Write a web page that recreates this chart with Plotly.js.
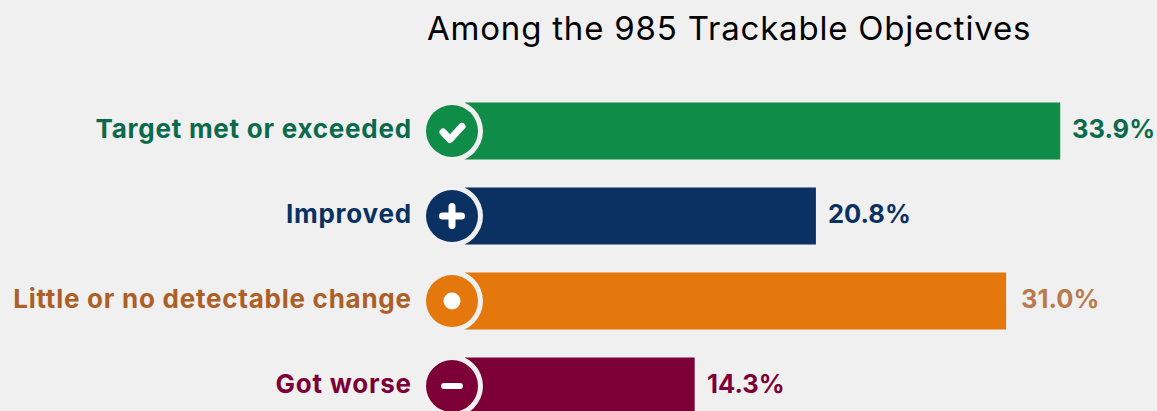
<!DOCTYPE html>
<html>
<head>
<meta charset="utf-8">
<script src="https://cdn.plot.ly/plotly-3.0.1.min.js"></script>
<style>
html,body{margin:0;padding:0;background:#f0f0f0;overflow:hidden}
.gtitle{letter-spacing:0.8px}
.ytick text{letter-spacing:0.75px}
.ytick{transform:translateY(-2px)}
.shapelayer path{stroke-linecap:round;stroke-linejoin:round}
</style>
</head>
<body>
<div id="chart" style="width:1157px;height:411px"></div>
<script>
const categories = ["Target met or exceeded","Improved","Little or no detectable change","Got worse"];
const values = [33.9,20.8,31.0,14.3];
const valueLabels = ["33.9%","20.8%","31.0%","14.3%"];
const barColors = ["#0f8c47","#0a3161","#e4780c","#7c0037"];
const textColors = ["#0b6a4c","#0a3161","#b97a4d","#7c0037"];
const labelColors = ["#0b6a4c","#0a3161","#ad5f28","#7c0037"];
// icon strokes, y up, px from badge centre
const iconPaths = [
 "M -9 -1 L -2 -8.5 L 10 4.5",
 "M -9.5 0 L 9.5 0 M 0 -9.5 L 0 9.5",
 null,
 "M -8 0 L 8 0"
];
const iconWidths = [7,7,0,6];
const labelShifts = [10,10,13,10];
const bg = "#f0f0f0";
const iconX = 1.287;   // centre of the badge, in axis units
const maskX = 1.98;

const shapes = [];
categories.forEach((c,i)=>{
  shapes.push({type:"rect",xref:"x",yref:"y",x0:-0.4,x1:maskX,y0:i-0.4,y1:i+0.4,
    fillcolor:bg,line:{width:0},layer:"above"});
  shapes.push({type:"circle",xref:"x",yref:"y",xsizemode:"pixel",ysizemode:"pixel",
    xanchor:iconX,yanchor:c,x0:-31,x1:31,y0:-31,y1:31,fillcolor:bg,line:{width:0},layer:"above"});
  shapes.push({type:"circle",xref:"x",yref:"y",xsizemode:"pixel",ysizemode:"pixel",
    xanchor:iconX,yanchor:c,x0:-26,x1:26,y0:-26,y1:26,fillcolor:barColors[i],line:{width:0},layer:"above"});
  if(iconPaths[i]){
    shapes.push({type:"path",xref:"x",yref:"y",xsizemode:"pixel",ysizemode:"pixel",
      xanchor:iconX,yanchor:c,path:iconPaths[i],line:{color:"#ffffff",width:iconWidths[i]},layer:"above"});
  } else {
    shapes.push({type:"circle",xref:"x",yref:"y",xsizemode:"pixel",ysizemode:"pixel",
      xanchor:iconX,yanchor:c,x0:-8.5,x1:8.5,y0:-8.5,y1:8.5,fillcolor:"#ffffff",line:{width:0},layer:"above"});
  }
});

const annotations = categories.map((c,i)=>({
  x:values[i],y:c,xref:"x",yref:"y",text:valueLabels[i],showarrow:false,xanchor:"left",yanchor:"middle",
  xshift:labelShifts[i],yshift:2.5,font:{family:"Inter, sans-serif",size:25.5,weight:700,color:textColors[i]}
}));

Plotly.newPlot("chart",[{
  type:"bar",orientation:"h",y:categories,x:values,
  marker:{color:barColors,line:{width:0}},width:0.67,hoverinfo:"skip"
}],{
  width:1157,height:411,
  paper_bgcolor:bg,plot_bgcolor:bg,
  margin:{l:420,r:0,t:0,b:0,pad:0},
  showlegend:false,
  title:{text:"Among the 985 Trackable Objectives",x:427/1157,xanchor:"left",y:0.93,yanchor:"middle",
    font:{family:"Inter, sans-serif",size:33,color:"#000000"}},
  xaxis:{range:[-0.429,39.09],visible:false,fixedrange:true},
  yaxis:{type:"category",categoryorder:"array",categoryarray:categories,range:[3.294,-1.541],
    showgrid:false,zeroline:false,showline:false,ticks:"outside",ticklen:2,tickcolor:"rgba(0,0,0,0)",
    tickvals:categories,
    ticktext:categories.map((c,i)=>`<span style="color:${labelColors[i]}">${c}</span>`),
    tickfont:{family:"Inter, sans-serif",size:26,weight:700},fixedrange:true},
  shapes,annotations
},{displayModeBar:false,staticPlot:true});
</script>
</body>
</html>
